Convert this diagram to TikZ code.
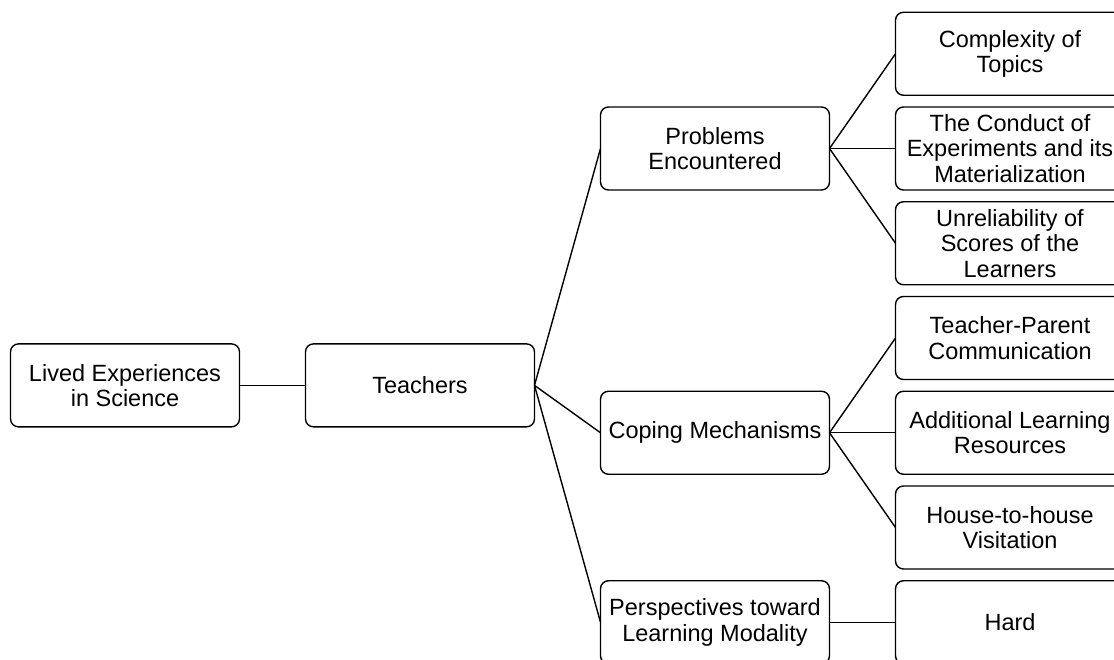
\documentclass[tikz,border=0pt]{standalone}
\usepackage{fontspec}
\setmainfont{Liberation Sans}
\usetikzlibrary{positioning}

\begin{document}
\begin{tikzpicture}[
            node distance=11.75pt and 66pt,
            box/.style={draw, rounded corners=8pt, line width=1.4pt, outer sep=0pt,
                        minimum width=229pt, minimum height=83pt, align=center, inner sep=2pt,
                        font=\fontsize{23.5}{25.5}\selectfont},
            link/.style={line width=1.4pt}]

            % page frame, the right column and the last row run off it
            \clip (0,0) rectangle (1114pt,-660pt);

            % right column
            \node[box] (conduct) at (1010pt,-148.5pt) {The Conduct of\\Experiments and its\\Materialization};
            \node[box, above=of conduct]    (complexity) {Complexity of\\Topics};
            \node[box, below=of conduct]    (scores)     {Unreliability of\\Scores of the\\Learners};
            \node[box, below=of scores]     (parent)     {Teacher-Parent\\Communication};
            \node[box, below=of parent]     (resources)  {Additional Learning\\Resources};
            \node[box, below=of resources]  (visit)      {House-to-house\\Visitation};
            \node[box, below=of visit]      (hard)       {Hard};

            % middle column
            \node[box, left=of conduct]     (problems)   {Problems\\Encountered};
            \node[box, left=of resources]   (coping)     {Coping Mechanisms};
            \node[box, left=of hard]        (views)      {Perspectives toward\\Learning Modality};

            % teachers sits halfway between first and last theme
            \path (problems.west) -- coordinate[midway] (midw) (views.west);
            \node[box, left=of midw]        (teachers)   {Teachers};
            \node[box, left=of teachers]    (lived)      {Lived Experiences\\in Science};

            \draw[link] (lived) -- (teachers);
            \foreach \t in {problems, coping, views}
                \draw[link] (teachers.east) -- (\t.west);
            \foreach \t in {complexity, conduct, scores}
                \draw[link] (problems.east) -- (\t.west);
            \foreach \t in {parent, resources, visit}
                \draw[link] (coping.east) -- (\t.west);
            \draw[link] (views) -- (hard);
        \end{tikzpicture}
\end{document}
